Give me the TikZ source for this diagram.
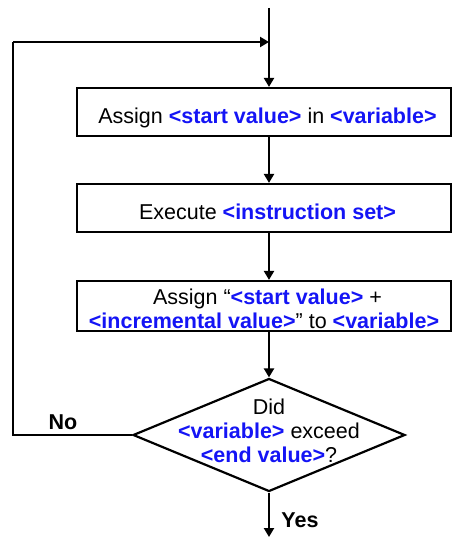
\documentclass[tikz,border=0pt]{standalone}
\usepackage{fontspec}
\setmainfont{Liberation Sans}
\usetikzlibrary{shapes.geometric,arrows.meta}
\definecolor{kw}{RGB}{20,20,245}
\newcommand{\kwd}[1]{\textbf{\textcolor{kw}{#1}}}
\begin{document}
\begin{tikzpicture}[x=1pt,y=-1pt,
  every node/.style={font=\fontsize{21.5}{24}\selectfont},
  stepbox/.style={draw,line width=2.2pt,minimum width=374pt,inner sep=0pt,align=center},
  onetext/.style={text height=27pt,text depth=4.5pt},
  decision/.style={draw,diamond,line width=2.2pt,minimum width=272pt,minimum height=113pt,inner sep=0pt},
  flow/.style={line width=2.2pt,-{Triangle[length=9pt,width=10pt]}},
  plain/.style={line width=2.2pt},
  lbl/.style={font=\fontsize{21.5}{24}\selectfont\bfseries}]
\useasboundingbox (0,0) rectangle (452,537);
\coordinate (start) at (269,8);
\coordinate (join) at (269,42);
\coordinate (corner1) at (13,42);
\coordinate (corner2) at (13,435);
\coordinate (fin) at (269,537);
\node[stepbox,onetext,minimum height=48pt] (b1) at (264,112) {\hspace*{7pt}Assign \kwd{<start value>} in \kwd{<variable>}};
\node[stepbox,onetext,minimum height=48pt] (b2) at (264,208) {\hspace*{7pt}Execute \kwd{<instruction set>}};
\node[stepbox,minimum height=50pt] (b3) at (264,306) {\rule{0pt}{21pt}\hspace*{7pt}Assign “\kwd{<start value>} +\\\kwd{<incremental value>}” to \kwd{<variable>}};
\node[decision] (d) at (269,435) {};
\node[align=center] (dt) at (269,431) {Did\\\kwd{<variable>} exceed\\\kwd{<end value>}?};
\node[lbl] (no) at (63,422) {No};
\node[lbl] (yes) at (300,520) {Yes};
\draw[flow] (start) -- (start |- b1.north);
\draw[flow] (start |- b1.south) -- (start |- b2.north);
\draw[flow] (start |- b2.south) -- (start |- b3.north);
\draw[flow] (start |- b3.south) -- (d.north);
\draw[flow] (d.south) -- (fin);
\draw[plain] (d.west) -- (corner2) -- (corner1);
\draw[flow] (corner1) -- (join);
\end{tikzpicture}
\end{document}
